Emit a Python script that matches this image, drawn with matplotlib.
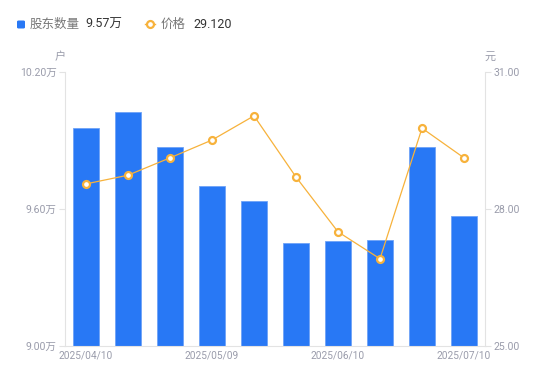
import matplotlib
matplotlib.use('Agg')
import matplotlib.pyplot as plt
from matplotlib.patches import FancyBboxPatch
import numpy as np

plt.rcParams['font.family'] = ['Roboto', 'Noto Sans CJK SC', 'DejaVu Sans']

# 股东数量 (万户) and 价格 (元)
holders = [9.955, 10.025, 9.87, 9.70, 9.635, 9.45, 9.46, 9.465, 9.87, 9.57]
price = [28.55, 28.74, 29.12, 29.51, 30.04, 28.70, 27.50, 26.91, 29.77, 29.12]
tick_idx = [0, 3, 6, 9]
tick_labels = ['2025/04/10', '2025/05/09', '2025/06/10', '2025/07/10']

blue = '#2878f5'
orange = '#f7b23b'
grey = '#9a9cab'
axis_grey = '#e3e3e3'

fig = plt.figure(figsize=(5.5, 3.81), dpi=100)
ax = fig.add_axes([65/550, 35/381, 420/550, 274/381])
ax2 = ax.twinx()

x = np.arange(len(holders))
ax.bar(x, holders, width=0.6, color=blue, edgecolor='#6fa3f7', linewidth=0.6, zorder=2)
ax2.plot(x, price, color=orange, linewidth=0.9, marker='o', markersize=5,
         markerfacecolor='white', markeredgecolor=orange, markeredgewidth=1.6, zorder=3)

ax.set_xlim(-0.5, len(holders) - 0.5)
ax.set_ylim(9.0, 10.2)
ax2.set_ylim(25.0, 31.0)
ax.set_yticks([9.0, 9.6, 10.2])
ax.set_yticklabels(['9.00万', '9.60万', '10.20万'])
ax2.set_yticks([25.0, 28.0, 31.0])
ax2.set_yticklabels(['25.00', '28.00', '31.00'])
ax.set_xticks(tick_idx)
ax.set_xticklabels(tick_labels)

for a in (ax, ax2):
    for s in a.spines.values():
        s.set_visible(False)
    a.tick_params(colors=axis_grey, labelcolor=grey, labelsize=7.6, length=4, width=0.8)
ax.spines['left'].set_visible(True)
ax.spines['left'].set_color(axis_grey)
ax.spines['bottom'].set_visible(True)
ax.spines['bottom'].set_color(axis_grey)
ax2.spines['right'].set_visible(True)
ax2.spines['right'].set_color(axis_grey)
ax.tick_params(axis='x', length=0, pad=3, labelsize=7.3)
ax.tick_params(axis='y', pad=2)
ax2.tick_params(axis='y', pad=2)

fig.text(60/550, 1 - 57/381, '户', color=grey, fontsize=8, ha='center', va='center')
fig.text(490/550, 1 - 57/381, '元', color=grey, fontsize=8, ha='center', va='center')

# legend
fig.patches.append(FancyBboxPatch((17/550, 1 - 28.5/381), 8/550, 8/381,
                                  boxstyle='round,pad=0,rounding_size=0.003',
                                  transform=fig.transFigure, facecolor=blue, edgecolor='none'))
fig.text(30/550, 1 - 24/381, '股东数量', color='#777777', fontsize=9, va='center')
fig.text(85/550, 1 - 24/381, '9.57万', color='#333333', fontsize=9, va='center')
fig.lines.append(plt.Line2D([145/550, 155/550], [1 - 24/381, 1 - 24/381], transform=fig.transFigure,
                            color=orange, linewidth=1))
fig.lines.append(plt.Line2D([150/550], [1 - 24/381], transform=fig.transFigure, color=orange,
                            marker='o', markersize=5, markerfacecolor='white', markeredgewidth=1.6))
fig.text(161/550, 1 - 24/381, '价格', color='#777777', fontsize=9, va='center')
fig.text(193/550, 1 - 24/381, '29.120', color='#333333', fontsize=9, va='center')

fig.savefig('out.png', dpi=100)
